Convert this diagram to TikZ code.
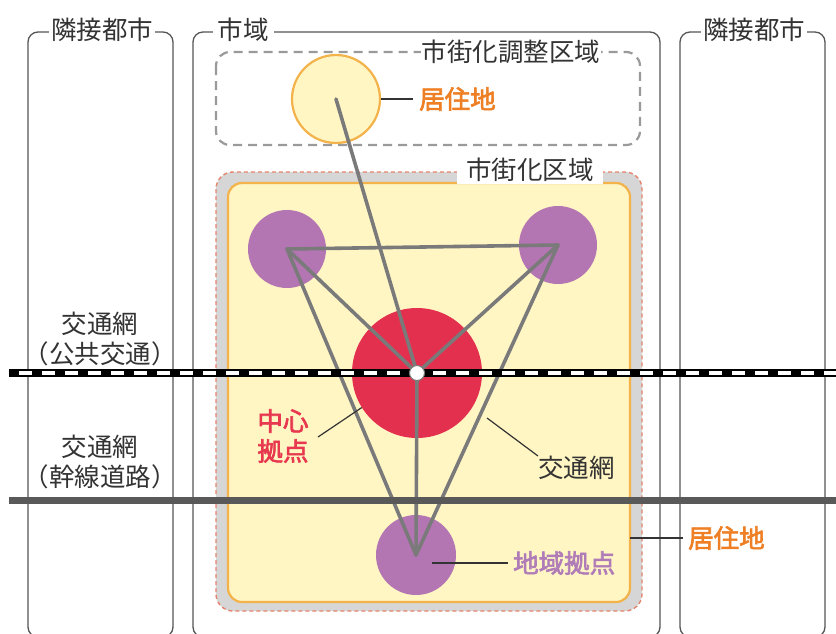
\documentclass[tikz,border=0pt]{standalone}
\usepackage{fontspec}
\setmainfont{Noto Sans CJK JP}
\newfontfamily\medfont{Noto Sans CJK JP}[FakeBold=2.5]
\usetikzlibrary{calc}
\definecolor{txt}{HTML}{333333}
\definecolor{frame}{HTML}{555555}
\definecolor{dashgray}{HTML}{9A9A9A}
\definecolor{resfill}{HTML}{FFF6C4}
\definecolor{resline}{HTML}{F3B24A}
\definecolor{band}{HTML}{D6D6D6}
\definecolor{salmon}{HTML}{E5846E}
\definecolor{purp}{HTML}{B475B3}
\definecolor{centerred}{HTML}{E3304F}
\definecolor{netgray}{HTML}{7A7A7A}
\definecolor{orangetxt}{HTML}{EE7F24}
\definecolor{redtxt}{HTML}{E8384F}
\definecolor{purptxt}{HTML}{B07CB8}
\definecolor{roadgray}{HTML}{595959}
\tikzset{
  panel/.style={draw=frame, line width=1.3pt, rounded corners=10pt},
  lab/.style={font=\fontsize{25.5}{30}\selectfont, text=txt, inner sep=0pt},
  collab/.style={font=\medfont\fontsize{25.5}{30}\selectfont, inner sep=0pt},
  leader/.style={draw=txt, line width=1.2pt},
  netline/.style={draw=netgray, line width=3.6pt, line cap=round, line join=round},
  disc/.style={circle, inner sep=0pt},
}
\begin{document}
\begin{tikzpicture}[x=1pt,y=-1pt]
\useasboundingbox (0,0) rectangle (836,633);
\fill[white] (0,0) rectangle (836,633);
% panels
\draw[panel] (28,32) rectangle (173,637);
\draw[panel] (193,32) rectangle (660,637);
\draw[panel] (680,32) rectangle (825,637);
\node[lab, fill=white, inner xsep=2pt, inner ysep=2pt] (adjL) at (102,30) {隣接都市};
\node[lab, fill=white, inner xsep=5pt, inner ysep=2pt] (city) at (243,30) {市域};
\node[lab, fill=white, inner xsep=2pt, inner ysep=2pt] (adjR) at (754,30) {隣接都市};
% urbanization control area
\draw[draw=dashgray, line width=2.2pt, dash pattern=on 9pt off 6pt, rounded corners=14pt] (216,52) rectangle (640,145);
\node[lab, fill=white, inner xsep=1pt] (ctl) at (511,52) {市街化調整区域};
\node[disc, fill=resfill, draw=resline, line width=2.2pt, minimum size=88pt] (res1c) at (336,99) {};
% urbanization area
\filldraw[fill=band, draw=salmon, line width=1.4pt, dash pattern=on 4pt off 3pt, rounded corners=17pt] (216,172) rectangle (642,611);
\filldraw[fill=resfill, draw=resline, line width=2.2pt, rounded corners=14pt] (228,183) rectangle (630,602);
\node[lab, fill=white, minimum width=146pt, minimum height=27pt] (urb) at (530,170) {市街化区域};
% hubs
\node[disc, fill=purp, minimum size=78pt] (ul) at (287,249) {};
\node[disc, fill=purp, minimum size=78pt] (ur) at (558,245) {};
\node[disc, fill=purp, minimum size=80pt] (bt) at (416,555) {};
\node[disc, fill=centerred, minimum size=130pt] (cen) at (417,373) {};
% network
\draw[netline] (ul.center) -- (ur.center) -- (bt.center) -- cycle;
\draw[netline] (ul.center) -- (cen.center);
\draw[netline] (ur.center) -- (cen.center);
\draw[netline] (bt.center) -- (cen.center);
\draw[netline] (res1c.center) -- (cen.center);
% transit and road
\coordinate (tL) at (9,373);
\coordinate (tR) at (836,373);
\coordinate (rL) at (9,500);
\coordinate (rR) at (836,500);
\draw[black, line width=8pt] (tL) -- (tR);
\draw[white, line width=3.4pt, dash pattern=on 13pt off 10pt, dash phase=13pt] (tL) -- (tR);
\draw[roadgray, line width=7pt] (rL) -- (rR);
\node[disc, fill=white, draw=netgray, line width=1pt, minimum size=15pt] (hub) at (cen.center) {};
% left labels
\node[lab, align=center] (lt1) at (100,339) {交通網\\（公共交通）};
\node[lab, align=center] (lt2) at (100,462) {交通網\\（幹線道路）};
% labels with leaders
\node[collab, text=orangetxt, anchor=west, inner xsep=6pt] (res1) at (413,99) {居住地};
\draw[leader] (res1c.east) -- (res1.west);
\node[collab, text=redtxt, align=center] (cl) at (283,436) {中心\\拠点};
\coordinate (clp) at (318,437);
\draw[leader] (clp) -- (cen.212);
\node[lab, anchor=north west] (netl) at (538,456) {交通網};
\coordinate (netp) at (487,418);
\draw[leader] (netp) -- (netl.north west);
\node[collab, text=purptxt, anchor=west, inner xsep=5pt] (loc) at (508,563) {地域拠点};
\coordinate (locp) at (432,563);
\draw[leader] (locp) -- (loc.west);
\node[collab, text=orangetxt, anchor=west, inner xsep=5pt] (res2) at (683,538) {居住地};
\coordinate (ybe) at (630,538);
\draw[leader] (ybe) -- (res2.west);
\end{tikzpicture}
\end{document}
